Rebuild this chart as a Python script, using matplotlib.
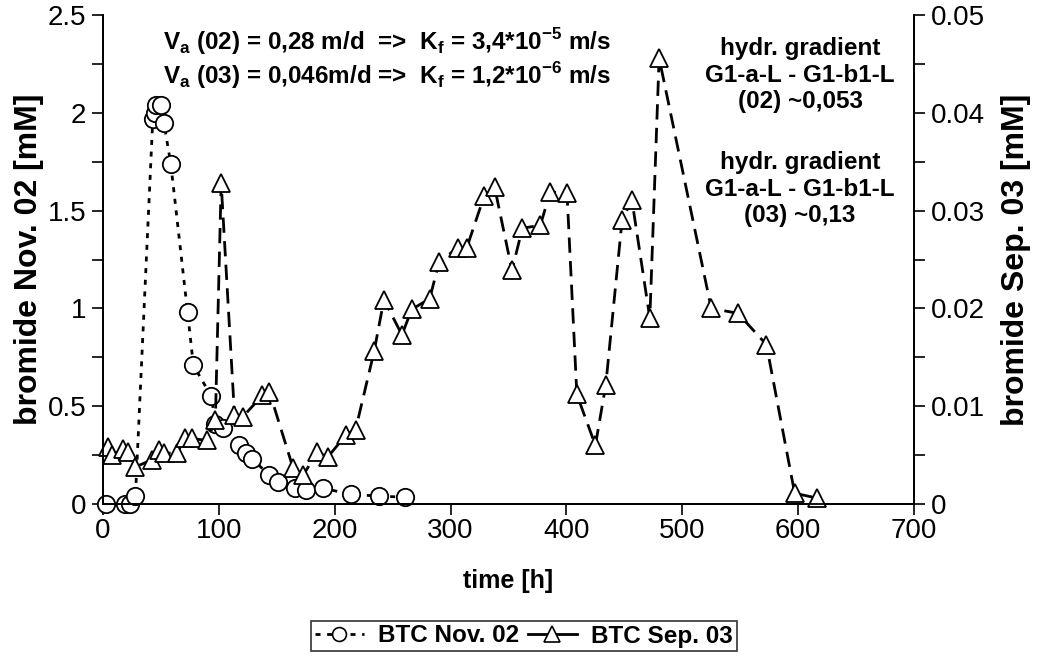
import matplotlib
matplotlib.use("Agg")
import matplotlib.pyplot as plt
from matplotlib.ticker import MultipleLocator
from matplotlib.lines import Line2D

plt.rcParams['font.family'] = ['Liberation Sans', 'DejaVu Sans']
plt.rcParams['mathtext.fontset'] = 'custom'
plt.rcParams['mathtext.rm'] = 'Liberation Sans'
plt.rcParams['mathtext.bf'] = 'Liberation Sans:bold'

# --- data ---
nov_t = [2.6, 19, 23, 28, 43, 45, 46, 50, 52.5, 58.5, 73, 78, 93.5, 97, 104,
         117, 123, 129, 143, 151, 166, 175.5, 190, 214, 238, 261]
nov_c = [0, 0, 0, 0.04, 1.97, 2.0, 2.04, 2.04, 1.95, 1.74, 0.98, 0.71, 0.55, 0.41, 0.39,
         0.30, 0.26, 0.23, 0.15, 0.11, 0.08, 0.07, 0.08, 0.05, 0.04, 0.035]

sep_t = [4.3, 7.7, 17, 22, 28, 42, 48, 53, 64, 70.5, 76.5, 90, 97, 102, 113.5, 120.5,
         137.6, 143.6, 164, 173, 185, 194, 210, 218, 234, 242.5, 258, 266.5, 282, 290,
         306, 314, 329, 338, 353, 362, 377.5, 386, 400.5, 409, 425, 434, 448, 456.5,
         472, 480, 525, 548, 572.6, 597, 616.5]
sep_c = [0.0058, 0.0050, 0.0056, 0.0053, 0.0038, 0.0045, 0.0055, 0.0052, 0.0052, 0.0067,
         0.0067, 0.0065, 0.0086, 0.0328, 0.0091, 0.0089, 0.0111, 0.0115, 0.0037, 0.0030,
         0.0053, 0.0048, 0.0071, 0.0076, 0.0156, 0.0209, 0.0173, 0.0199, 0.0210, 0.0247,
         0.0262, 0.0262, 0.0315, 0.0324, 0.0239, 0.0282, 0.0285, 0.0319, 0.0318, 0.0112,
         0.0060, 0.0122, 0.0290, 0.0311, 0.0190, 0.0456, 0.0200, 0.0195, 0.0163, 0.0011,
         0.0006]

label_nov = "BTC Nov. 02"
label_sep = "BTC Sep. 03"

left_ticks = [0, 0.5, 1, 1.5, 2, 2.5]
left_ticklabels = ['0', '0.5', '1', '1.5', '2', '2.5']
right_ticks = [0, 0.01, 0.02, 0.03, 0.04, 0.05]
right_ticklabels = ['0', '0.01', '0.02', '0.03', '0.04', '0.05']

dot_style = (0, (1.8, 2.4))
dash_style = (0, (5.5, 3))

fig = plt.figure(figsize=(10.38, 6.56), dpi=100)
ax = fig.add_axes([103/1038, 1-504/656, (914-103)/1038, (504-15)/656])
ax2 = ax.twinx()

ax.plot(nov_t, nov_c, color='black', lw=2.0, linestyle=dot_style,
        marker='o', ms=12.5, mfc='white', mec='black', mew=1.3, clip_on=False)
ax2.plot(sep_t, sep_c, color='black', lw=2.0, linestyle=dash_style,
         marker='^', ms=13, mfc='white', mec='black', mew=1.3, clip_on=False)

ax.set_xlim(0, 700)
ax.set_ylim(0, 2.5)
ax2.set_ylim(0, 0.05)

for a in (ax, ax2):
    a.spines['top'].set_visible(False)
    for s in a.spines.values():
        s.set_linewidth(1.3)

ax.xaxis.set_major_locator(MultipleLocator(100))
ax.set_yticks(left_ticks)
ax.set_yticklabels(left_ticklabels)
ax.yaxis.set_minor_locator(MultipleLocator(0.25))
ax2.set_yticks(right_ticks)
ax2.set_yticklabels(right_ticklabels)
ax2.yaxis.set_minor_locator(MultipleLocator(0.005))

ax.tick_params(axis='x', which='major', direction='out', length=8, width=1.2,
               labelsize=20, pad=2)
ax.tick_params(axis='y', which='major', direction='out', length=8, width=1.2,
               labelsize=20, pad=4)
ax.tick_params(axis='y', which='minor', direction='out', length=8, width=1.2)
ax2.tick_params(axis='y', which='major', direction='out', length=8, width=1.2,
                labelsize=20, pad=4)
ax2.tick_params(axis='y', which='minor', direction='out', length=8, width=1.2)

ax.set_xlabel('time [h]', fontsize=18, fontweight='bold', labelpad=18)
ax.set_ylabel('bromide Nov. 02 [mM]', fontsize=23, fontweight='bold', labelpad=3)
ax2.set_ylabel('bromide Sep. 03 [mM]', fontsize=23, fontweight='bold', labelpad=12)

t1 = r"V$_\mathbf{a}$ (02) = 0,28 m/d  =>  K$_\mathbf{f}$ = 3,4*10$^{\mathbf{-5}}$ m/s"
t2 = r"V$_\mathbf{a}$ (03) = 0,046m/d =>  K$_\mathbf{f}$ = 1,2*10$^{\mathbf{-6}}$ m/s"
fig.text(163/1038, 1-42/656, t1, fontsize=17.5, fontweight='bold', va='center', ha='left')
fig.text(163/1038, 1-76/656, t2, fontsize=17.5, fontweight='bold', va='center', ha='left')

g1 = "hydr. gradient\nG1-a-L - G1-b1-L\n(02) ~0,053"
g2 = "hydr. gradient\nG1-a-L - G1-b1-L\n(03) ~0,13"
fig.text(800/1038, 1-75/656, g1, fontsize=17.5, fontweight='bold', ha='center', va='center',
         linespacing=1.18)
fig.text(800/1038, 1-189/656, g2, fontsize=17.5, fontweight='bold', ha='center', va='center',
         linespacing=1.18)

h1 = Line2D([], [], color='black', lw=2.0, linestyle=dot_style, marker='o', ms=10,
            mfc='white', mec='black', mew=1.2)
h2 = Line2D([], [], color='black', lw=2.0, linestyle='-', marker='^', ms=11,
            mfc='white', mec='black', mew=1.2)
leg = fig.legend([h1, h2], [label_nov, label_sep], loc='center',
                 bbox_to_anchor=(524/1038, 1-636/656), ncol=2, frameon=True,
                 fancybox=False, edgecolor='black', prop={'weight': 'bold', 'size': 17.5},
                 handlelength=2.0, handletextpad=0.6, columnspacing=0.35,
                 borderpad=0.15, borderaxespad=0)
leg.get_frame().set_linewidth(1.2)

fig.savefig('out.png', dpi=100)
